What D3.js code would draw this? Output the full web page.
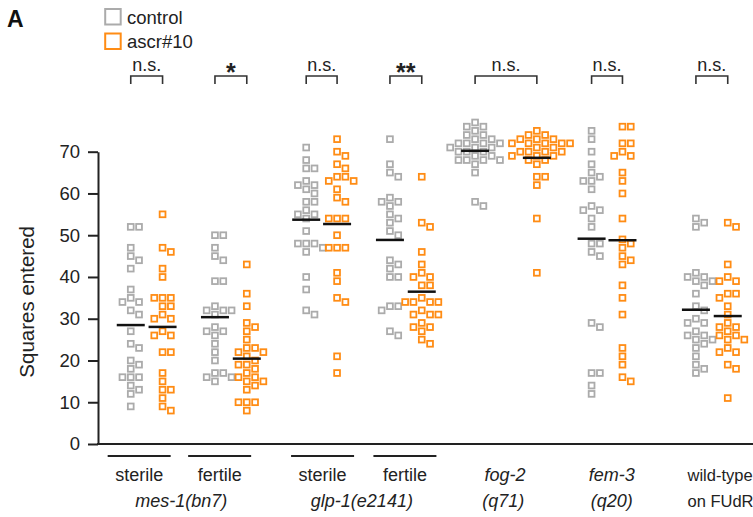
<!DOCTYPE html>
<html>
<head>
<meta charset="utf-8">
<script src="https://cdn.jsdelivr.net/npm/d3@7"></script>
<style>
  body { margin: 0; background: #fff; }
  svg { display: block; font-family: "Liberation Sans", Arial, sans-serif; }
</style>
</head>
<body>
<svg id="chart"></svg>
<script>
// Groups, left to right
const groups = ['mes-1 sterile', 'mes-1 fertile', 'glp-1 sterile', 'glp-1 fertile', 'fog-2', 'fem-3', 'wild-type FUdR'];

// Squares entered per worm, control
const controlValues = [
    [52, 52, 47, 45, 44, 42, 37, 35, 34, 34, 32, 31, 27, 24, 23, 20, 19, 18, 16, 16, 16, 14, 13, 12, 9],
    [50, 50, 47, 45, 44, 39, 39, 33, 32, 32, 32, 31, 28, 27, 27, 26, 24, 22, 20, 17, 17, 16, 16, 15],
    [71, 68, 66, 66, 63, 62, 62, 61, 60, 58, 58, 56, 55, 55, 54, 51, 48, 48, 48, 47, 46, 40, 37, 32, 31],
    [73, 67, 65, 64, 59, 58, 58, 57, 55, 54, 53, 51, 50, 44, 43, 42, 40, 40, 33, 33, 32, 27, 26],
    [77, 76, 76, 75, 74, 74, 73, 73, 72, 72, 72, 72, 71, 71, 71, 70, 70, 70, 69, 69, 68, 68, 68, 68, 67, 65, 58, 57],
    [75, 73, 70, 67, 65, 64, 63, 63, 61, 57, 56, 56, 54, 52, 48, 48, 46, 45, 29, 28, 17, 17, 14, 12],
    [54, 53, 52, 41, 40, 40, 39, 39, 38, 36, 33, 32, 30, 29, 29, 27, 26, 26, 25, 25, 24, 23, 21, 19, 18, 17]
];

// Squares entered per worm, ascr#10
const ascrValues = [
    [55, 47, 46, 42, 40, 35, 35, 35, 33, 33, 31, 30, 30, 27, 26, 26, 22, 22, 17, 15, 13, 13, 11, 9, 8],
    [43, 36, 33, 29, 28, 27, 25, 23, 23, 22, 22, 21, 20, 19, 19, 18, 17, 16, 16, 15, 15, 14, 13, 10, 10, 10, 8],
    [73, 70, 69, 67, 66, 64, 64, 63, 63, 61, 59, 58, 54, 54, 54, 50, 47, 47, 47, 41, 39, 35, 34, 21, 17],
    [64, 53, 52, 46, 43, 41, 40, 40, 38, 38, 35, 34, 34, 34, 34, 32, 31, 31, 31, 29, 28, 28, 27, 25, 24],
    [75, 74, 74, 73, 73, 73, 72, 72, 72, 72, 72, 71, 71, 70, 70, 70, 70, 69, 69, 69, 68, 68, 67, 64, 64, 62, 54, 41],
    [76, 76, 72, 72, 70, 69, 69, 65, 63, 60, 54, 49, 48, 47, 45, 44, 43, 38, 35, 31, 23, 21, 19, 16, 15],
    [53, 52, 43, 40, 39, 39, 36, 36, 35, 33, 31, 29, 28, 28, 27, 26, 26, 25, 25, 23, 22, 22, 19, 18, 11]
];

const significance = ['n.s.', '*', 'n.s.', '**', 'n.s.', 'n.s.', 'n.s.'];
const yTicks = [0, 10, 20, 30, 40, 50, 60, 70];
const conditionLabels = ['sterile', 'fertile', 'sterile', 'fertile', 'fog-2', 'fem-3', 'wild-type'];
const genotypeLabels = ['mes-1(bn7)', 'glp-1(e2141)', '(q71)', '(q20)', 'on FUdR'];
const seriesNames = ['control', 'ascr#10'];

// Layout (slot units on the x scale)
const groupSlot = [0.52, 1.42, 2.39, 3.29, 4.36, 5.44, 6.56];
const pairHalf = [0.17, 0.17, 0.165, 0.17, 0.33, 0.165, 0.17];
const conditionSlot = [0.44, 1.30, 2.40, 3.28, 4.35, 5.49, 6.30];
const conditionItalic = [false, false, false, false, true, true, false];
const underlined = [true, true, true, true, false, false, false];
const genotypeSlot = [0.89, 2.82, 4.33, 5.49, 6.30];
const genotypeItalic = [true, true, true, true, false];

const width = 753;
const height = 517;
const colors = ['#ababab', '#ff8c14'];

const svg = d3.select('#chart')
    .attr('width', width)
    .attr('height', height);

const x = d3.scaleLinear().domain([0, 7]).range([98, 753]);
const y = d3.scaleLinear().domain([0, 70]).range([444, 151.7]);

// Axes
const yAxis = svg.append('g')
    .attr('transform', `translate(${x(0)},0)`)
    .call(d3.axisLeft(y).tickValues(yTicks).tickSize(10).tickPadding(8).tickSizeOuter(0));
yAxis.select('.domain').attr('stroke', '#222').attr('stroke-width', 2);
yAxis.selectAll('.tick line').attr('stroke', '#222').attr('stroke-width', 2);
yAxis.selectAll('.tick text')
    .attr('font-size', 18.5)
    .attr('font-family', '"Liberation Sans", Arial, sans-serif')
    .attr('fill', '#222');

svg.append('line')
    .attr('x1', x(0) - 1).attr('x2', x(7))
    .attr('y1', y(0)).attr('y2', y(0))
    .attr('stroke', '#222')
    .attr('stroke-width', 2);

svg.append('text')
    .attr('transform', `translate(27,${(y(0) + y(70)) / 2 + 4}) rotate(-90)`)
    .attr('text-anchor', 'middle')
    .attr('dy', '0.35em')
    .attr('font-size', 20.5)
    .attr('fill', '#222')
    .text('Squares entered');

// Beeswarm placement: stack squares sideways when they would overlap
const step = 8.3;
const side = 5.8;
function swarm(values, cx) {
    const sorted = values.slice().sort((a, b) => b - a);
    const placed = [];
    return sorted.map(v => {
        const py = y(v);
        let k = 0;
        for (let i = 0; i < 40; i++) {
            k = i === 0 ? 0 : (i % 2 ? Math.ceil(i / 2) : -i / 2);
            const free = placed.every(p => p.k !== k || Math.abs(p.y - py) >= 7.5);
            if (free) break;
        }
        placed.push({ y: py, k: k });
        return { value: v, x: cx + k * step, y: py };
    });
}

groups.forEach((g, i) => {
    [controlValues[i], ascrValues[i]].forEach((vals, s) => {
        const cx = x(groupSlot[i] + (s === 0 ? -pairHalf[i] : pairHalf[i]));
        const pts = swarm(vals, cx);

        svg.append('g')
            .selectAll('rect')
            .data(pts)
            .join('rect')
            .attr('x', d => d.x - side / 2)
            .attr('y', d => d.y - side / 2)
            .attr('width', side)
            .attr('height', side)
            .attr('fill', 'none')
            .attr('stroke', colors[s])
            .attr('stroke-width', 1.8);

        // mean line
        const m = d3.mean(vals);
        svg.append('line')
            .attr('x1', cx - 14).attr('x2', cx + 14)
            .attr('y1', y(m)).attr('y2', y(m))
            .attr('stroke', '#111')
            .attr('stroke-width', 2.5);
    });

    // significance bracket
    const xl = x(groupSlot[i] - pairHalf[i]);
    const xr = x(groupSlot[i] + pairHalf[i]);
    svg.append('path')
        .attr('d', `M${xl},84V76H${xr}V84`)
        .attr('fill', 'none')
        .attr('stroke', '#333')
        .attr('stroke-width', 1.6);
    const star = significance[i] !== 'n.s.';
    svg.append('text')
        .attr('x', (xl + xr) / 2)
        .attr('y', star ? 81 : 71)
        .attr('text-anchor', 'middle')
        .attr('font-size', star ? 25 : 18)
        .attr('font-weight', star ? 'bold' : 'normal')
        .attr('fill', '#222')
        .text(significance[i]);
});

// x labels
conditionLabels.forEach((t, i) => {
    const cx = x(conditionSlot[i]);
    const last = i === conditionLabels.length - 1;
    if (underlined[i]) {
        svg.append('line')
            .attr('x1', cx - 31.5).attr('x2', cx + 31.5)
            .attr('y1', 456).attr('y2', 456)
            .attr('stroke', '#222')
            .attr('stroke-width', 2);
    }
    svg.append('text')
        .attr('x', cx)
        .attr('y', 481)
        .attr('text-anchor', last ? 'start' : 'middle')
        .attr('font-size', last ? 16.5 : 18)
        .attr('font-style', conditionItalic[i] ? 'italic' : 'normal')
        .attr('fill', '#222')
        .text(t);
});
genotypeLabels.forEach((t, i) => {
    const last = i === genotypeLabels.length - 1;
    svg.append('text')
        .attr('x', x(genotypeSlot[i]))
        .attr('y', 507)
        .attr('text-anchor', last ? 'start' : 'middle')
        .attr('font-size', last ? 16.5 : 18)
        .attr('font-style', genotypeItalic[i] ? 'italic' : 'normal')
        .attr('fill', '#222')
        .text(t);
});

// Legend
seriesNames.forEach((name, s) => {
    svg.append('rect')
        .attr('x', 105.2).attr('y', 9 + s * 24.5)
        .attr('width', 15.5).attr('height', 15.5)
        .attr('fill', 'none')
        .attr('stroke', colors[s])
        .attr('stroke-width', 2);
    svg.append('text')
        .attr('x', 127)
        .attr('y', 23.5 + s * 24.8)
        .attr('font-size', 18.5)
        .attr('fill', '#222')
        .text(name);
});

// Panel letter
svg.append('text')
    .attr('x', 7)
    .attr('y', 27)
    .attr('font-size', 23)
    .attr('font-weight', 'bold')
    .attr('fill', '#111')
    .text('A');
</script>
</body>
</html>
